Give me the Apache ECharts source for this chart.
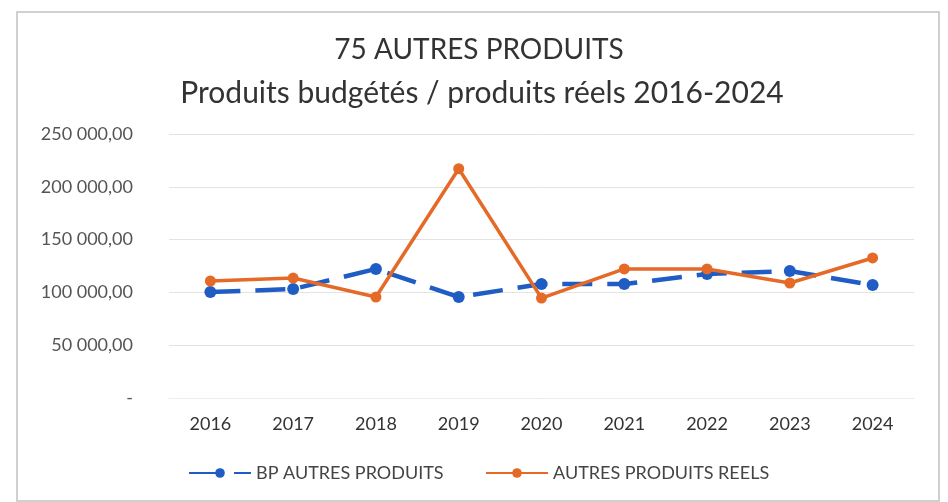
<!DOCTYPE html>
<html><head><meta charset="utf-8">
<script src="https://cdn.jsdelivr.net/npm/echarts@6/dist/echarts.min.js"></script>
<style>html,body{margin:0;padding:0;background:#fff}#c{width:948px;height:502px}</style>
</head><body><div id="c"></div>
<script>
const categories = ['2016','2017','2018','2019','2020','2021','2022','2023','2024'];
const bpValues = [100300, 103200, 122200, 95600, 107900, 107900, 117400, 120300, 106900];
const reelValues = [110800, 113600, 95600, 217100, 94600, 122200, 122200, 108900, 132600];
const seriesNames = ['BP AUTRES PRODUITS', 'AUTRES PRODUITS REELS'];
const titleLines = ['75 AUTRES PRODUITS', 'Produits budgétés / produits réels 2016-2024'];

function fmt(v){
  if (v === 0) return '-';
  const s = Math.round(v).toString().replace(/\B(?=(\d{3})+(?!\d))/g, ' ');
  return s + ',00';
}

const chart = echarts.init(document.getElementById('c'), null, {renderer:'canvas'});
const FONT = 'Lato';
const legendText = {fontFamily:FONT, fontSize:18, color:'#444'};
chart.setOption({
  animation:false,
  backgroundColor:'#fff',
  graphic:[{type:'rect', shape:{x:17,y:12,width:922,height:489}, style:{fill:'none', stroke:'#d0d0d0', lineWidth:2}, silent:true}],
  title:[
    {text:titleLines[0], left:474, textAlign:'center', top:31, textStyle:{fontFamily:FONT, fontSize:28, fontWeight:'normal', color:'#333'}},
    {text:titleLines[1], left:477, textAlign:'center', top:73, textStyle:{fontFamily:FONT, fontSize:30, fontWeight:'normal', color:'#333'}}
  ],
  grid:{left:169, right:34, top:134, bottom:104, containLabel:false},
  legend:[
    {left:183, top:459, itemWidth:62, itemHeight:12, itemGap:12, textStyle:legendText, data:[seriesNames[0]]},
    {left:480, top:459, itemWidth:62, itemHeight:12, itemGap:8, textStyle:legendText, data:[seriesNames[1]]}
  ],
  xAxis:{
    type:'category', data:categories, boundaryGap:true,
    axisLine:{show:true, lineStyle:{color:'#ececec'}}, axisTick:{show:false},
    axisLabel:{fontFamily:FONT, fontSize:18, color:'#333', margin:17}
  },
  yAxis:{
    type:'value', min:0, max:250000, interval:50000,
    axisLine:{show:false}, axisTick:{show:false},
    splitLine:{lineStyle:{color:'#e3e3e3', width:1}},
    axisLabel:{fontFamily:FONT, fontSize:18, color:'#555', margin:36, formatter:fmt}
  },
  series:[
    {name:seriesNames[0], type:'line', data:bpValues, symbol:'circle', symbolSize:12,
     itemStyle:{color:'#1f5cc4'}, lineStyle:{color:'#1f5cc4', width:4.5, type:[30,15]}, z:2},
    {name:seriesNames[1], type:'line', data:reelValues, symbol:'circle', symbolSize:11,
     itemStyle:{color:'#e56a28'}, lineStyle:{color:'#e56a28', width:3.5}, z:3}
  ]
});
</script></body></html>
